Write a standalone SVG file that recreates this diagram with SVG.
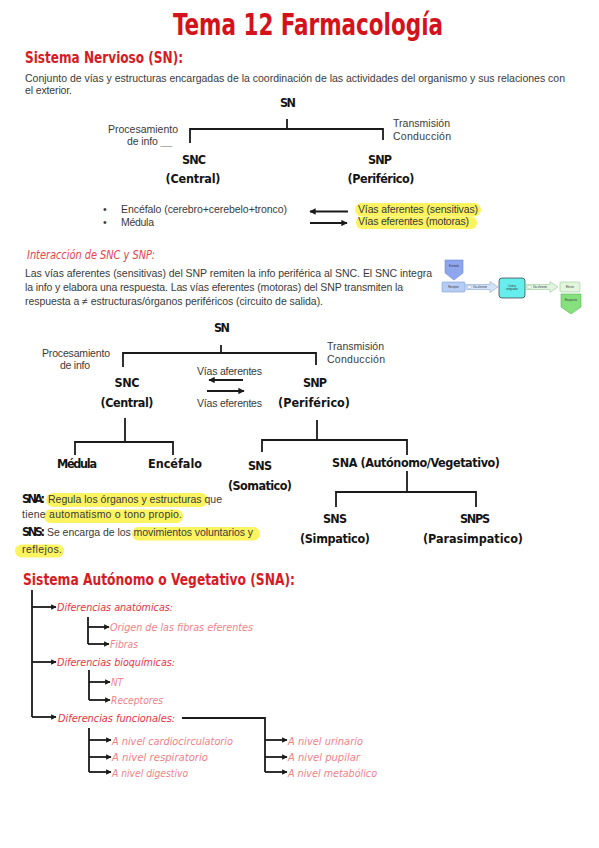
<svg xmlns="http://www.w3.org/2000/svg" width="599" height="848" viewBox="0 0 599 848">
<defs>
<style>
.title{font-family:"DejaVu Sans Condensed","DejaVu Sans","Liberation Sans",sans-serif;font-weight:bold;fill:#d3121b;font-size:31px}
.h1{font-family:"DejaVu Sans Condensed","DejaVu Sans","Liberation Sans",sans-serif;font-weight:bold;fill:#d61b24;font-size:16px}
.h2{font-family:"DejaVu Sans Condensed","DejaVu Sans",sans-serif;font-style:italic;fill:#e8424c;font-size:12px}
.body{font-family:"Liberation Sans",Arial,sans-serif;font-size:10.5px;fill:#3a3a3a}
.hand{font-family:"DejaVu Sans Condensed","DejaVu Sans",sans-serif;font-weight:bold;fill:#141414;font-size:12.5px}
.diff{font-family:"DejaVu Sans Condensed","DejaVu Sans",sans-serif;font-style:italic;fill:#e8343f;font-size:11px}
.sub{font-family:"DejaVu Sans Condensed","DejaVu Sans",sans-serif;font-style:italic;fill:#f47f88;font-size:11px}
.hl{fill:#fbf35f}
.c{fill:none;stroke:#1a1a1a;stroke-width:1.8}
.ca{fill:none;stroke:#1a1a1a;stroke-width:1.8;marker-end:url(#ah)}
.cv{fill:none;stroke:#1a1a1a;stroke-width:1.8;marker-end:url(#av)}
.tiny{font-family:"Liberation Sans",Arial,sans-serif;font-size:2.6px;fill:#333}
</style>
<marker id="ah" viewBox="0 0 10 10" refX="9" refY="5" markerWidth="3" markerHeight="3" orient="auto" markerUnits="strokeWidth">
<path d="M0,0 L10,5 L0,10 z" fill="#1a1a1a"/>
</marker>
<marker id="av" viewBox="0 0 10 10" refX="9" refY="5" markerWidth="3.5" markerHeight="3.5" orient="auto" markerUnits="strokeWidth">
<path d="M0,0 L10,5 L0,10 z" fill="#1a1a1a"/>
</marker>
</defs>
<rect width="599" height="848" fill="#ffffff"/>

<text class="title" x="308" y="35" text-anchor="middle" textLength="270" lengthAdjust="spacingAndGlyphs">Tema 12 Farmacología</text>
<text class="h1" x="25" y="63" textLength="158" lengthAdjust="spacingAndGlyphs">Sistema Nervioso (SN):</text>
<text class="body" x="25" y="82" textLength="540">Conjunto de vías y estructuras encargadas de la coordinación de las actividades del organismo y sus relaciones con</text>
<text class="body" x="25" y="94" textLength="47">el exterior.</text>

<!-- Tree 1 -->
<g id="connectors1">
<path class="c" d="M287,119 V129"/>
<path class="c" d="M190,143 V129 H383 V140"/>
<path class="cv" d="M348,211.5 H310"/>
<path class="cv" d="M310,223 H347"/>
</g>
<g id="t1-sn"><text class="hand" x="288" y="107" text-anchor="middle" textLength="16">SN</text></g>
<g id="t1-proc">
<text class="body" x="108" y="133" textLength="70">Procesamiento</text>
<text class="body" x="127" y="145" textLength="45">de info <tspan fill="#999">__</tspan></text>
</g>
<g id="t1-trans">
<text class="body" x="393" y="127" textLength="57">Transmisión</text>
<text class="body" x="393" y="140" textLength="58">Conducción</text>
</g>
<g id="t1-snc">
<text class="hand" x="194" y="164" text-anchor="middle" textLength="24">SNC</text>
<text class="hand" x="193" y="183" text-anchor="middle" textLength="55">(Central)</text>
</g>
<g id="t1-snp">
<text class="hand" x="380" y="164" text-anchor="middle" textLength="24">SNP</text>
<text class="hand" x="381" y="183" text-anchor="middle" textLength="67">(Periférico)</text>
</g>
<g id="t1-bullets">
<text class="body" x="103" y="213">•</text>
<text class="body" x="121" y="213" textLength="166">Encéfalo (cerebro+cerebelo+tronco)</text>
<text class="body" x="103" y="226">•</text>
<text class="body" x="121" y="226" textLength="33">Médula</text>
</g>
<g id="t1-vias">
<rect class="hl" x="355" y="203" width="126" height="13.5" rx="6.5"/>
<rect class="hl" x="356" y="216.5" width="121" height="12.5" rx="6"/>
<text class="body" x="358" y="212.5" textLength="120">Vías aferentes (sensitivas)</text>
<text class="body" x="358" y="225" textLength="111">Vías eferentes (motoras)</text>
</g>

<!-- Interacción -->
<text class="h2" x="27" y="259" textLength="128" lengthAdjust="spacingAndGlyphs">Interacción de SNC y SNP:</text>
<text class="body" x="25" y="277" textLength="407">Las vías aferentes (sensitivas) del SNP remiten la info periférica al SNC. El SNC integra</text>
<text class="body" x="25" y="291" textLength="378">la info y elabora una respuesta. Las vías eferentes (motoras) del SNP transmiten la</text>
<text class="body" x="25" y="305" textLength="298">respuesta a ≠ estructuras/órganos periféricos (circuito de salida).</text>

<!-- mini flow diagram -->
<g id="mini-estimulo">
<polygon points="445,260 463,260 463,273 454,280 445,273" fill="#8ea6ee" stroke="#6b86d6" stroke-width="0.6"/>
<text class="tiny" x="454" y="267" text-anchor="middle">Estímulo</text>
</g>
<g id="mini-receptor">
<rect x="442" y="282" width="23" height="10" rx="1" fill="#b5cdf3" stroke="#7c9bd8" stroke-width="0.6"/>
<text class="tiny" x="453.5" y="288" text-anchor="middle">Receptor</text>
</g>
<g id="mini-arrow1">
<polygon points="466,284.5 490,284.5 490,281.5 498,287 490,292.5 490,289.5 466,289.5" fill="#d3e2f7" stroke="#8aa7d6" stroke-width="0.6"/>
<rect x="468" y="285.5" width="3" height="3" fill="#fff" stroke="#8aa7d6" stroke-width="0.4"/>
<text class="tiny" x="480" y="288" text-anchor="middle">Vía aferente</text>
</g>
<g id="mini-centro">
<rect x="499" y="278" width="26" height="20" rx="3" fill="#66eded" stroke="#333" stroke-width="0.7"/>
<text class="tiny" x="512" y="286.5" text-anchor="middle">Centro</text>
<text class="tiny" x="512" y="290" text-anchor="middle">integrador</text>
</g>
<g id="mini-arrow2">
<polygon points="526,284.5 550,284.5 550,281.5 558,287 550,292.5 550,289.5 526,289.5" fill="#e1f4dd" stroke="#9bc79a" stroke-width="0.6"/>
<rect x="528" y="285.5" width="3" height="3" fill="#fff" stroke="#9bc79a" stroke-width="0.4"/>
<text class="tiny" x="540" y="288" text-anchor="middle">Vía eferente</text>
</g>
<g id="mini-efector">
<rect x="560" y="282" width="20" height="10" rx="1" fill="#e3f6dd" stroke="#9cc99a" stroke-width="0.6"/>
<text class="tiny" x="570" y="288" text-anchor="middle">Efector</text>
</g>
<g id="mini-respuesta">
<polygon points="561,294 581,294 581,307 571,314 561,307" fill="#86e07e" stroke="#5cb755" stroke-width="0.6"/>
<text class="tiny" x="571" y="301" text-anchor="middle">Respuesta</text>
</g>

<!-- Tree 2 -->
<g id="connectors2">
<path class="c" d="M221,345 V353"/>
<path class="c" d="M123,367 V353 H316 V365"/>
<path class="cv" d="M243,380 H209"/>
<path class="cv" d="M207,391 H244"/>
<path class="c" d="M125,418 V442"/>
<path class="c" d="M75,455 V442 H173 V455"/>
<path class="c" d="M317,420 V440"/>
<path class="c" d="M262,452 V440 H407 V455"/>
<path class="c" d="M407,471 V492"/>
<path class="c" d="M336,507 V492 H476 V507"/>
</g>
<g id="t2-sn"><text class="hand" x="222" y="332" text-anchor="middle" textLength="16">SN</text></g>
<g id="t2-proc">
<text class="body" x="42" y="357" textLength="68">Procesamiento</text>
<text class="body" x="60" y="369" textLength="30">de info</text>
</g>
<g id="t2-trans">
<text class="body" x="327" y="350" textLength="57">Transmisión</text>
<text class="body" x="327" y="363" textLength="58">Conducción</text>
</g>
<g id="t2-snc">
<text class="hand" x="127" y="387" text-anchor="middle" textLength="25">SNC</text>
<text class="hand" x="127" y="407" text-anchor="middle" textLength="53">(Central)</text>
</g>
<g id="t2-vias">
<text class="body" x="197" y="375" textLength="65">Vías aferentes</text>
<text class="body" x="197" y="407" textLength="65">Vías eferentes</text>
</g>
<g id="t2-snp">
<text class="hand" x="315" y="387" text-anchor="middle" textLength="24">SNP</text>
<text class="hand" x="314" y="407" text-anchor="middle" textLength="72">(Periférico)</text>
</g>
<g id="t2-medula"><text class="hand" x="77" y="468" text-anchor="middle" textLength="40">Médula</text></g>
<g id="t2-encefalo"><text class="hand" x="175" y="468" text-anchor="middle" textLength="54">Encéfalo</text></g>
<g id="t2-sns">
<text class="hand" x="260" y="470" text-anchor="middle" textLength="24">SNS</text>
<text class="hand" x="260" y="490" text-anchor="middle" textLength="64">(Somatico)</text>
</g>
<g id="t2-sna"><text class="hand" x="416" y="467" text-anchor="middle" textLength="168">SNA (Autónomo/Vegetativo)</text></g>
<g id="t2-simp">
<text class="hand" x="335" y="523" text-anchor="middle" textLength="24">SNS</text>
<text class="hand" x="335" y="543" text-anchor="middle" textLength="70">(Simpatico)</text>
</g>
<g id="t2-parasimp">
<text class="hand" x="475" y="523" text-anchor="middle" textLength="30">SNPS</text>
<text class="hand" x="473" y="543" text-anchor="middle" textLength="100">(Parasimpatico)</text>
</g>

<!-- Notes -->
<g id="notes">
<rect class="hl" x="46" y="493" width="162" height="14" rx="7"/>
<rect class="hl" x="44" y="509.5" width="139" height="13.5" rx="6.5"/>
<rect class="hl" x="132" y="527" width="128" height="13.5" rx="6.5"/>
<rect class="hl" x="15" y="544.5" width="49" height="13" rx="6.5"/>
<text class="hand" x="22" y="503" font-size="11" textLength="23">SNA:</text>
<text class="body" x="48" y="503" textLength="174">Regula los órganos y estructuras que</text>
<text class="body" x="22" y="518" textLength="160">tiene automatismo o tono propio.</text>
<text class="hand" x="22" y="536" font-size="11" textLength="23">SNS:</text>
<text class="body" x="47" y="536" textLength="206">Se encarga de los movimientos voluntarios y</text>
<text class="body" x="22" y="553" textLength="40">reflejos.</text>
</g>

<!-- SNA section -->
<text class="h1" x="23" y="585" textLength="272" lengthAdjust="spacingAndGlyphs">Sistema Autónomo o Vegetativo (SNA):</text>
<g id="connectors3">
<path class="c" d="M32,590 V717"/>
<path class="ca" d="M32,607 H56"/>
<path class="ca" d="M32,662 H56"/>
<path class="ca" d="M32,717 H56"/>
<path class="c" d="M88,617 V644"/>
<path class="ca" d="M88,627 H109"/>
<path class="ca" d="M88,644 H109"/>
<path class="c" d="M89,670 V700"/>
<path class="ca" d="M89,682 H110"/>
<path class="ca" d="M89,700 H110"/>
<path class="c" d="M182,718 H265 V772"/>
<path class="c" d="M89,728 V772"/>
<path class="ca" d="M89,740 H111"/>
<path class="ca" d="M89,757 H111"/>
<path class="ca" d="M89,772 H111"/>
<path class="ca" d="M265,740 H287"/>
<path class="ca" d="M265,757 H287"/>
<path class="ca" d="M265,772 H287"/>
</g>
<g id="anat">
<text class="diff" x="57" y="611" textLength="116" lengthAdjust="spacingAndGlyphs">Diferencias anatómicas:</text>
<text class="sub" x="110" y="631" textLength="143" lengthAdjust="spacingAndGlyphs">Origen de las fibras eferentes</text>
<text class="sub" x="110" y="648" textLength="28" lengthAdjust="spacingAndGlyphs">Fibras</text>
</g>
<g id="bioq">
<text class="diff" x="57" y="666" textLength="118" lengthAdjust="spacingAndGlyphs">Diferencias bioquímicas:</text>
<text class="sub" x="111" y="686" textLength="12" lengthAdjust="spacingAndGlyphs">NT</text>
<text class="sub" x="111" y="704" textLength="52" lengthAdjust="spacingAndGlyphs">Receptores</text>
</g>
<g id="func">
<text class="diff" x="58" y="722" textLength="117" lengthAdjust="spacingAndGlyphs">Diferencias funcionales:</text>
<text class="sub" x="112" y="745" textLength="121" lengthAdjust="spacingAndGlyphs">A nivel cardiocirculatorio</text>
<text class="sub" x="112" y="761" textLength="96" lengthAdjust="spacingAndGlyphs">A nivel respiratorio</text>
<text class="sub" x="112" y="777" textLength="76" lengthAdjust="spacingAndGlyphs">A nivel digestivo</text>
<text class="sub" x="288" y="745" textLength="75" lengthAdjust="spacingAndGlyphs">A nivel urinario</text>
<text class="sub" x="288" y="761" textLength="72" lengthAdjust="spacingAndGlyphs">A nivel pupilar</text>
<text class="sub" x="288" y="777" textLength="89" lengthAdjust="spacingAndGlyphs">A nivel metabólico</text>
</g>
</svg>
